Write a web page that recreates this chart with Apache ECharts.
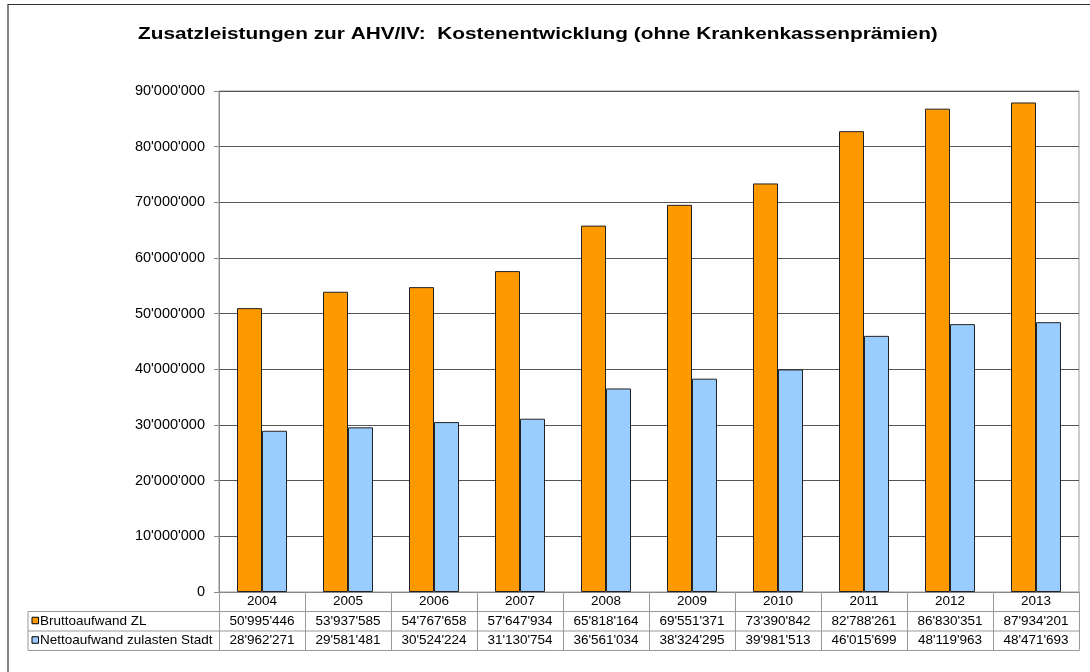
<!DOCTYPE html>
<html lang="de">
<head>
    <meta charset="UTF-8">
    <title>Zusatzleistungen zur AHV/IV</title>
    <style>
        html, body { margin: 0; padding: 0; background: #fff; }
        #container { width: 1090px; height: 672px; }
    </style>
</head>
<body>
<div id="container"></div>
<script src="https://cdn.jsdelivr.net/npm/echarts@6/dist/echarts.min.js"></script>
<script type="text/javascript">
    // Daten
    var years = ['2004', '2005', '2006', '2007', '2008', '2009', '2010', '2011', '2012', '2013'];
    var brutto = [50995446, 53937585, 54767658, 57647934, 65818164, 69551371, 73390842, 82788261, 86830351, 87934201];
    var netto = [28962271, 29581481, 30524224, 31130754, 36561034, 38324295, 39981513, 46015699, 48119963, 48471693];
    var seriesNames = ['Bruttoaufwand ZL', 'Nettoaufwand zulasten Stadt'];
    var colors = ['#FF9900', '#99CCFF'];
    var titleText = 'Zusatzleistungen zur AHV/IV:  Kostenentwicklung (ohne Krankenkassenprämien)';

    var font = '"Liberation Sans", Arial, sans-serif';

    function fmt(n) {
        return String(n).replace(/\B(?=(\d{3})+(?!\d))/g, "'");
    }

    // Layout der Tabelle unter der Grafik
    var gridLeft = 219, gridRight = 1079, axisY = 592;
    var rowH = 19.5;
    var tableLeft = 28;
    var rowLines = [axisY + rowH, axisY + 2 * rowH, axisY + 3 * rowH];

    var chart = echarts.init(document.getElementById('container'));

    var graphics = [
        {
            type: 'rect', silent: true,
            shape: {x: 8, y: 4.5, width: 1200, height: 800},
            style: {fill: 'none', stroke: '#333', lineWidth: 1.2}
        },
        {
            // Titel, im Original horizontal gestreckt
            type: 'text', silent: true,
            x: 138, y: 34, scaleX: 1.3, scaleY: 1.05,
            style: {text: titleText, font: 'bold 16px ' + font, fill: '#000', verticalAlign: 'middle'}
        }
    ];
    rowLines.forEach(function (y) {
        graphics.push({
            type: 'line', silent: true,
            shape: {x1: tableLeft, y1: y, x2: gridRight, y2: y},
            style: {stroke: '#999', lineWidth: 1}
        });
    });
    graphics.push({
        type: 'line', silent: true,
        shape: {x1: tableLeft, y1: rowLines[0], x2: tableLeft, y2: rowLines[2]},
        style: {stroke: '#999', lineWidth: 1}
    });
    seriesNames.forEach(function (name, i) {
        var cy = rowLines[i] + rowH / 2;
        graphics.push({
            type: 'rect', silent: true,
            shape: {x: 32, y: cy - 4, width: 6.5, height: 6.5},
            style: {fill: colors[i], stroke: '#000', lineWidth: 1}
        });
        graphics.push({
            type: 'text', silent: true,
            x: 40, y: cy,
            style: {text: name, font: '13.5px ' + font, fill: '#000', verticalAlign: 'middle'}
        });
    });

    var option = {
        backgroundColor: '#fff',
        animation: false,
        grid: {
            left: gridLeft,
            right: 1090 - gridRight,
            top: 91,
            bottom: 672 - axisY,
            show: true,
            borderColor: '#999',
            borderWidth: 1
        },
        xAxis: {
            type: 'category',
            data: years,
            axisLine: {lineStyle: {color: '#888', width: 1}},
            axisTick: {show: true, length: rowH * 3, lineStyle: {color: '#999'}},
            axisLabel: {
                margin: 0,
                interval: 0,
                lineHeight: rowH,
                fontFamily: font,
                fontSize: 13.5,
                color: '#000',
                formatter: function (value, idx) {
                    return value + '\n' + fmt(brutto[idx]) + '\n' + fmt(netto[idx]);
                }
            }
        },
        yAxis: {
            type: 'value',
            min: 0,
            max: 90000000,
            interval: 10000000,
            axisLine: {show: true, lineStyle: {color: '#888'}},
            axisTick: {show: true, length: 5, lineStyle: {color: '#888'}},
            splitLine: {lineStyle: {color: '#555', width: 1}},
            axisLabel: {
                margin: 14,
                fontFamily: font,
                fontSize: 14.5,
                color: '#000',
                formatter: function (v) { return fmt(v); }
            }
        },
        series: [
            {
                name: seriesNames[0],
                type: 'bar',
                data: brutto,
                barWidth: 25,
                barGap: '0%',
                itemStyle: {color: colors[0], borderColor: '#222', borderWidth: 1}
            },
            {
                name: seriesNames[1],
                type: 'bar',
                data: netto,
                barWidth: 25,
                barGap: '0%',
                itemStyle: {color: colors[1], borderColor: '#222', borderWidth: 1}
            }
        ],
        graphic: graphics
    };
    chart.setOption(option);
</script>
</body>
</html>
